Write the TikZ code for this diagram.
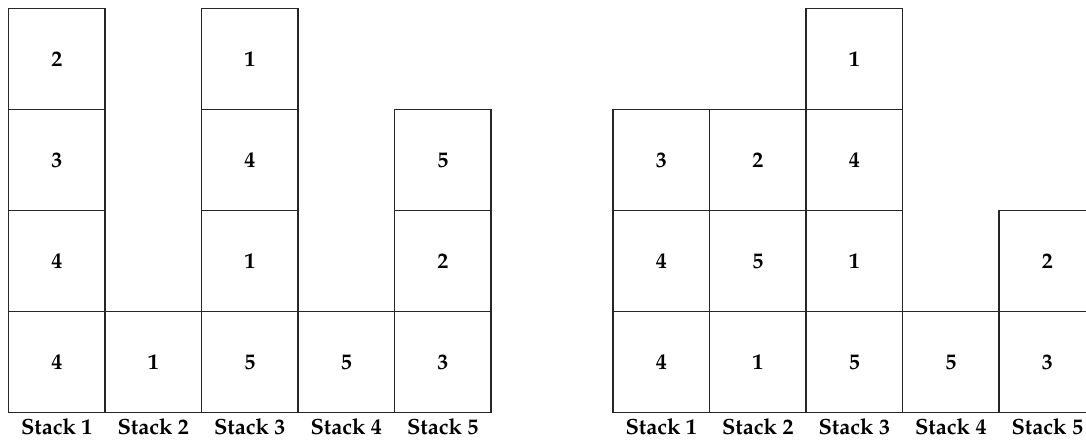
\documentclass[tikz,border=0pt]{standalone}
\usepackage[T1]{fontenc}
\usepackage{mathpazo}
\begin{document}
\begin{tikzpicture}[x=1pt,y=-1pt,
  cell/.style={draw=black!85,line width=1.9pt,minimum width=96.5pt,minimum height=101pt,inner sep=0pt,font=\fontsize{22}{24}\selectfont\bfseries},
  stacklabel/.style={inner sep=0pt,font=\fontsize{22}{24}\selectfont\bfseries}]
\useasboundingbox (0,0) rectangle (1086,440);
\clip (0,0) rectangle (1086,440);
% left panel: x0 = 8.5 ; right panel: x0 = 613
\foreach \p/\xo in {L/8.5,R/613}{
  \foreach \c in {1,...,5}{
    \node[stacklabel] (\p lab\c) at ({\xo+(\c-0.5)*96.5},427) {Stack \c};
  }
}
% Left panel stacks (bottom to top)
\foreach \c/\vals in {1/{4,4,3,2},2/{1},3/{5,1,4,1},4/{5},5/{3,2,5}}{
  \foreach \v [count=\r] in \vals{
    \node[cell] (L\c r\r) at ({8.5+(\c-0.5)*96.5},{412.5-(\r-0.5)*101}) {\v};
  }
}
% Right panel stacks (bottom to top)
\foreach \c/\vals in {1/{4,4,3},2/{1,5,2},3/{5,1,4,1},4/{5},5/{3,2}}{
  \foreach \v [count=\r] in \vals{
    \node[cell] (R\c r\r) at ({613+(\c-0.5)*96.5},{412.5-(\r-0.5)*101}) {\v};
  }
}
\end{tikzpicture}
\end{document}
